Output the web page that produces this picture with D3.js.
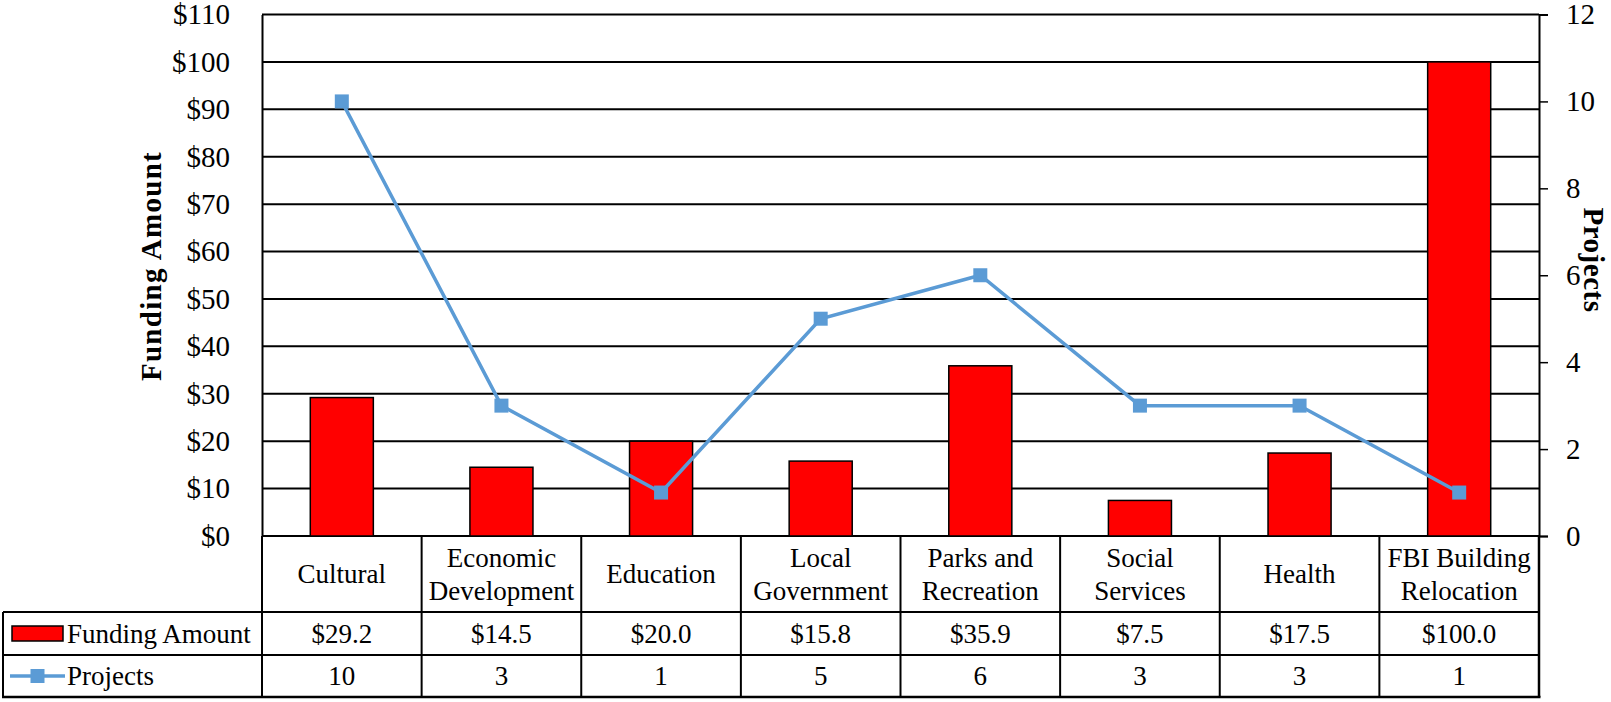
<!DOCTYPE html>
<html>
<head>
<meta charset="utf-8">
<script src="https://cdn.jsdelivr.net/npm/d3@7"></script>
<style>
  html, body { margin: 0; padding: 0; background: #fff; }
  svg { display: block; }
  svg text { font-family: "Liberation Serif", "Times New Roman", Tinos, "DejaVu Serif", serif; fill: #000; }
</style>
</head>
<body>
<svg id="chart" width="1611" height="702"></svg>
<script>
// ---- data ----
const categories = ["Cultural", "Economic\nDevelopment", "Education", "Local\nGovernment",
  "Parks and\nRecreation", "Social\nServices", "Health", "FBI Building\nRelocation"];
const fundingAmount = [29.2, 14.5, 20.0, 15.8, 35.9, 7.5, 17.5, 100.0];
const projects = [10, 3, 1, 5, 6, 3, 3, 1];
const fundingTicks = [0, 10, 20, 30, 40, 50, 60, 70, 80, 90, 100, 110];
const projectTicks = [0, 2, 4, 6, 8, 10, 12];
const seriesNames = ["Funding Amount", "Projects"];

// ---- layout ----
const FONT = '"Liberation Serif", "Times New Roman", Tinos, "DejaVu Serif", serif';
const svg = d3.select("#chart");
const L = 262, R = 1539, T = 14.5, B = 536;
const rowCatB = 612, rowFundB = 655, rowProjB = 697, tableL = 3;
const FS = 27, AFS = 29;
const barColor = "#FF0000", lineColor = "#5B9BD5";

const x = d3.scaleBand().domain(categories).range([L, R]).padding(0);
const yL = d3.scaleLinear().domain([0, 110]).range([B, T]);
const yR = d3.scaleLinear().domain([0, 12]).range([B, T]);
const barW = x.bandwidth() * 0.395;

// gridlines
svg.append("g").selectAll("line").data(fundingTicks).join("line")
  .attr("x1", L).attr("x2", R)
  .attr("y1", d => yL(d)).attr("y2", d => yL(d))
  .attr("stroke", "#000").attr("stroke-width", 2);

// left axis
const gL = svg.append("g").attr("transform", `translate(${L},0)`)
  .call(d3.axisLeft(yL).tickValues(fundingTicks).tickSize(0).tickPadding(32).tickFormat(d => "$" + d));
gL.attr("font-family", null);
gL.select(".domain").attr("stroke", "#000").attr("stroke-width", 2);
gL.selectAll("text").attr("font-size", AFS).style("font-family", FONT).attr("fill", "#000");

// right axis
const gR = svg.append("g").attr("transform", `translate(${R},0)`)
  .call(d3.axisRight(yR).tickValues(projectTicks).tickSize(9).tickPadding(18).tickFormat(d3.format("d")));
gR.attr("font-family", null);
gR.select(".domain").attr("stroke", "#000").attr("stroke-width", 2);
gR.selectAll(".tick line").attr("stroke", "#000").attr("stroke-width", 1.5);
gR.selectAll("text").attr("font-size", AFS).style("font-family", FONT).attr("fill", "#000");

// bars
svg.append("g").selectAll("rect").data(categories).join("rect")
  .attr("x", (d) => x(d) + (x.bandwidth() - barW) / 2)
  .attr("width", barW)
  .attr("y", (d, i) => yL(fundingAmount[i]))
  .attr("height", (d, i) => yL(0) - yL(fundingAmount[i]))
  .attr("fill", barColor).attr("stroke", "#000").attr("stroke-width", 1.5);

// line
const line = d3.line().x((d, i) => x(categories[i]) + x.bandwidth() / 2).y(d => yR(d));
svg.append("path").datum(projects).attr("d", line)
  .attr("fill", "none").attr("stroke", lineColor).attr("stroke-width", 3.5);
const MS = 14;
svg.append("g").selectAll("rect").data(projects).join("rect")
  .attr("x", (d, i) => x(categories[i]) + x.bandwidth() / 2 - MS / 2)
  .attr("y", d => yR(d) - MS / 2)
  .attr("width", MS).attr("height", MS).attr("fill", lineColor);

// axis titles
svg.append("text").attr("transform", `translate(151,266) rotate(-90)`)
  .attr("text-anchor", "middle").attr("dy", "0.35em").style("font-family", FONT)
  .style("letter-spacing", "1.3px")
  .attr("font-size", 29).attr("font-weight", "bold").text("Funding Amount");
svg.append("text").attr("transform", `translate(1594,260) rotate(90)`)
  .attr("text-anchor", "middle").attr("dy", "0.35em").style("font-family", FONT)
  .style("letter-spacing", "0.5px")
  .attr("font-size", 29).attr("font-weight", "bold").text("Projects");

// ---- data table ----
const tbl = svg.append("g");
const stroke = (sel, w) => sel.attr("stroke", "#000").attr("stroke-width", w || 2);
// horizontal lines
stroke(tbl.append("line").attr("x1", tableL).attr("x2", R + 1).attr("y1", rowCatB).attr("y2", rowCatB));
stroke(tbl.append("line").attr("x1", tableL).attr("x2", R + 1).attr("y1", rowFundB).attr("y2", rowFundB));
stroke(tbl.append("line").attr("x1", tableL - 1).attr("x2", R + 1.5).attr("y1", rowProjB).attr("y2", rowProjB), 2.5);
stroke(tbl.append("line").attr("x1", tableL).attr("x2", tableL).attr("y1", rowCatB).attr("y2", rowProjB));
// vertical boundaries
const bounds = categories.map(c => x(c));
stroke(tbl.append("g").selectAll("line").data(bounds).join("line")
  .attr("x1", d => d).attr("x2", d => d).attr("y1", B).attr("y2", rowProjB));
stroke(tbl.append("line").attr("x1", R).attr("x2", R).attr("y1", B).attr("y2", rowProjB), 2.5);

// category labels
const catG = tbl.append("g").selectAll("text").data(categories).join("text")
  .attr("x", d => x(d) + x.bandwidth() / 2).style("font-family", FONT)
  .attr("text-anchor", "middle").attr("font-size", FS);
catG.each(function (d) {
  const lines = d.split("\n");
  const cy = (B + rowCatB) / 2;
  const lh = 33;
  const t = d3.select(this);
  lines.forEach((ln, k) => {
    t.append("tspan").attr("x", x(d) + x.bandwidth() / 2)
      .attr("y", cy + (k - (lines.length - 1) / 2) * lh).attr("dy", "0.35em").text(ln);
  });
});

// value rows
tbl.append("g").selectAll("text").data(fundingAmount).join("text")
  .attr("x", (d, i) => x(categories[i]) + x.bandwidth() / 2)
  .attr("y", (rowCatB + rowFundB) / 2).attr("dy", "0.35em").style("font-family", FONT)
  .attr("text-anchor", "middle").attr("font-size", FS)
  .text(d => "$" + d3.format(".1f")(d));
tbl.append("g").selectAll("text").data(projects).join("text")
  .attr("x", (d, i) => x(categories[i]) + x.bandwidth() / 2)
  .attr("y", (rowFundB + rowProjB) / 2).attr("dy", "0.35em").style("font-family", FONT)
  .attr("text-anchor", "middle").attr("font-size", FS)
  .text(d => d);

// legend keys
const fy = (rowCatB + rowFundB) / 2, py = (rowFundB + rowProjB) / 2;
tbl.append("rect").attr("x", 12).attr("y", fy - 7.5).attr("width", 51).attr("height", 15)
  .attr("fill", barColor).attr("stroke", "#000").attr("stroke-width", 1.5);
tbl.append("text").attr("x", 67).attr("y", fy).attr("dy", "0.35em").style("font-family", FONT)
  .attr("font-size", FS).text(seriesNames[0]);
tbl.append("line").attr("x1", 10).attr("x2", 65).attr("y1", py).attr("y2", py)
  .attr("stroke", lineColor).attr("stroke-width", 3.5);
tbl.append("rect").attr("x", 37.5 - 7).attr("y", py - 7).attr("width", 14).attr("height", 14).attr("fill", lineColor);
tbl.append("text").attr("x", 67).attr("y", py).attr("dy", "0.35em").style("font-family", FONT)
  .attr("font-size", FS).text(seriesNames[1]);
</script>
</body>
</html>
